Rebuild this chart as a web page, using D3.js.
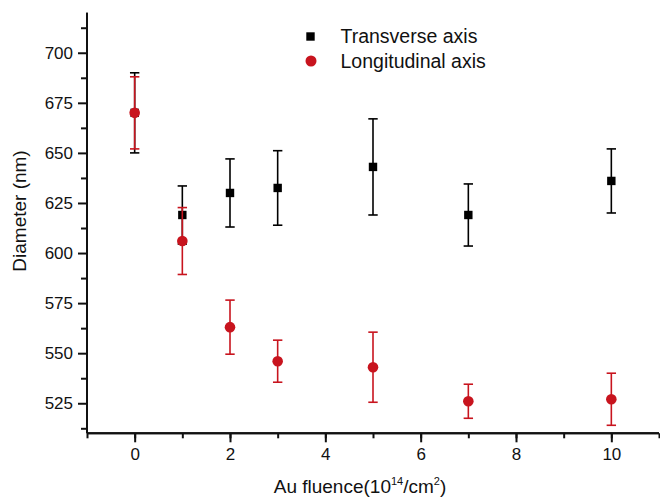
<!DOCTYPE html>
<html>
<head>
<meta charset="utf-8">
<script src="https://cdn.jsdelivr.net/npm/d3@7"></script>
<style>
  body { margin: 0; background: #fff; }
  svg text { font-family: "Liberation Sans", Arial, sans-serif; fill: #111; }
</style>
</head>
<body>
<svg id="chart" width="660" height="497"></svg>
<script>
// data
const fluence = [0, 1, 2, 3, 5, 7, 10];
const transverse = [670, 619, 630, 632.5, 643, 619, 636];
const transverseErr = [20, 14.5, 17, 18.6, 24, 15.5, 16];
const longitudinal = [670, 606, 563, 546, 543, 526, 527];
const longitudinalErr = [18, 16.7, 13.5, 10.5, 17.5, 8.5, 13];
const xTicks = [0, 2, 4, 6, 8, 10];
const yTicks = [525, 550, 575, 600, 625, 650, 675, 700];

const red = '#c8141e';
const svg = d3.select('#chart');

const x = d3.scaleLinear().domain([-1, 11]).range([87, 659]);
const y = d3.scaleLinear().domain([510, 720]).range([433.3, 12.7]);

// axes
const xAxis = svg.append('g').attr('transform', 'translate(0,433.3)');
xAxis.call(d3.axisBottom(x).tickValues(d3.range(-1, 12, 1)).tickSize(5).tickFormat(''));
xAxis.append('g').call(d3.axisBottom(x).tickValues(xTicks).tickSize(9).tickPadding(6));

const yAxis = svg.append('g').attr('transform', 'translate(87,0)');
yAxis.call(d3.axisLeft(y).tickValues(d3.range(512.5, 720, 25)).tickSize(6).tickFormat(''));
yAxis.append('g').call(d3.axisLeft(y).tickValues(yTicks).tickSize(9).tickPadding(5));

svg.selectAll('.domain').attr('stroke', '#111').attr('stroke-width', 2);
svg.selectAll('.tick line').attr('stroke', '#111').attr('stroke-width', 2);
svg.selectAll('.tick text').attr('font-size', 17).style('font-family', '"Liberation Sans", Arial, sans-serif').attr('fill', '#111');
// remove outer tick ends of domain
xAxis.selectAll('.domain').attr('d', `M87,0H659`);
yAxis.selectAll('.domain').attr('d', `M0,433.3V12.7`);
xAxis.select('g').selectAll('.domain').remove();
yAxis.select('g').selectAll('.domain').remove();

// error bars + markers
function drawSeries(vals, errs, color, shape) {
  const g = svg.append('g');
  const cap = 4.7;
  fluence.forEach((f, i) => {
    const cx = x(f), top = y(vals[i] + errs[i]), bot = y(vals[i] - errs[i]);
    g.append('line').attr('x1', cx).attr('x2', cx).attr('y1', top).attr('y2', bot)
      .attr('stroke', color).attr('stroke-width', 1.6);
    [top, bot].forEach(yy => g.append('line').attr('x1', cx - cap).attr('x2', cx + cap)
      .attr('y1', yy).attr('y2', yy).attr('stroke', color).attr('stroke-width', 1.6));
  });
  fluence.forEach((f, i) => {
    if (shape === 'square') {
      g.append('rect').attr('x', x(f) - 4.2).attr('y', y(vals[i]) - 4.2)
        .attr('width', 8.4).attr('height', 8.4).attr('fill', color);
    } else {
      g.append('circle').attr('cx', x(f)).attr('cy', y(vals[i])).attr('r', 5.3).attr('fill', color);
    }
  });
}
drawSeries(transverse, transverseErr, '#000', 'square');
drawSeries(longitudinal, longitudinalErr, red, 'circle');

// legend
const leg = svg.append('g');
leg.append('rect').attr('x', 306.3).attr('y', 32.3).attr('width', 8.4).attr('height', 8.4).attr('fill', '#000');
leg.append('text').attr('x', 340.5).attr('y', 43).attr('font-size', 19.5).text('Transverse axis');
leg.append('circle').attr('cx', 311).attr('cy', 61).attr('r', 5.5).attr('fill', red);
leg.append('text').attr('x', 340.5).attr('y', 68).attr('font-size', 19.5).text('Longitudinal axis');

// axis titles
const xt = svg.append('text').attr('x', 360).attr('y', 493).attr('text-anchor', 'middle').attr('font-size', 19);
xt.append('tspan').text('Au fluence(10');
xt.append('tspan').attr('font-size', 11).attr('dy', -8).text('14');
xt.append('tspan').attr('dy', 8).text('/cm');
xt.append('tspan').attr('font-size', 11).attr('dy', -8).text('2');
xt.append('tspan').attr('dy', 8).text(')');

svg.append('text').attr('transform', 'translate(26,211) rotate(-90)')
  .attr('text-anchor', 'middle').attr('font-size', 19).text('Diameter (nm)');
</script>
</body>
</html>
